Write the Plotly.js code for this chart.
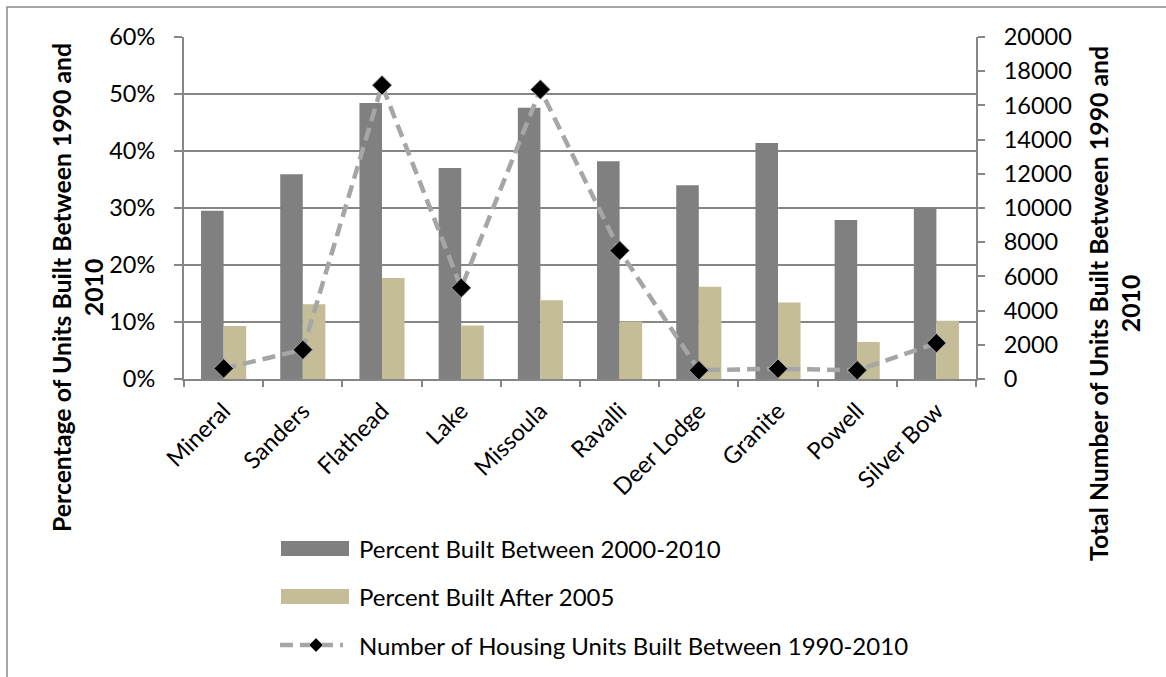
<!DOCTYPE html>
<html>
<head>
<meta charset="utf-8">
<script src="https://cdn.plot.ly/plotly-3.0.1.min.js"></script>
<style>
  html, body { margin: 0; padding: 0; background: #fff; }
  #chart { width: 1166px; height: 677px; }
</style>
</head>
<body>
<div id="chart"></div>
<script>
const counties = ["Mineral", "Sanders", "Flathead", "Lake", "Missoula", "Ravalli", "Deer Lodge", "Granite", "Powell", "Silver Bow"];
const pct2000to2010 = [0.295, 0.359, 0.484, 0.370, 0.476, 0.382, 0.340, 0.414, 0.279, 0.300];
const pctAfter2005 = [0.093, 0.131, 0.177, 0.094, 0.138, 0.101, 0.162, 0.134, 0.065, 0.102];
const unitsBuilt1990to2010 = [620, 1710, 17180, 5330, 16930, 7510, 510, 600, 510, 2100];

const seriesNames = [
  "Percent Built Between 2000-2010",
  "Percent Built After 2005",
  "Number of Housing Units Built Between 1990-2010"
];
const leftTitle = "Percentage of Units Built Between 1990 and<br>2010";
const rightTitle = "Total Number of Units Built Between 1990 and<br>2010";

const FONT = "Lato, 'Open Sans', sans-serif";
const AX = "#868686";
const TICK_SIZE = 23.5;
const LEG_SIZE = 24;
const TITLE_SIZE = 24.8;

// layout geometry (pixels)
const W = 1166, H = 677;
const L = 184, R = 976, T = 37, B = 379;
const px = x => (x - L) / (R - L);
const py = y => (B - y) / (B - T);

const traces = [
  {
    type: "bar", name: seriesNames[0], x: counties, y: pct2000to2010,
    marker: { color: "#808080" }, hoverinfo: "x+y"
  },
  {
    type: "bar", name: seriesNames[1], x: counties, y: pctAfter2005,
    marker: { color: "#C4BD97" }, hoverinfo: "x+y"
  },
  {
    type: "scatter", mode: "lines+markers", name: seriesNames[2],
    x: counties, y: unitsBuilt1990to2010, yaxis: "y2",
    line: { color: "#A6A6A6", width: 4.5, dash: "13px,7px" },
    marker: { symbol: "diamond", size: 15, color: "#000000", line: { color: "#A6A6A6", width: 1 } }
  }
];

// legend drawn as shapes + annotations
const dX = 7 / (R - L), dY = 7 / (B - T);
const lgX = px(316), lgY = py(645);
const shapes = [
  { type: "rect", xref: "paper", yref: "paper", x0: px(7), x1: px(1175), y0: py(690), y1: py(7),
    line: { color: "#8C8C8C", width: 1.5 }, fillcolor: "rgba(0,0,0,0)", layer: "below" },
  { type: "rect", xref: "paper", yref: "paper", x0: px(281), x1: px(349), y0: py(556), y1: py(541),
    line: { width: 0 }, fillcolor: "#808080" },
  { type: "rect", xref: "paper", yref: "paper", x0: px(281), x1: px(349), y0: py(604), y1: py(589),
    line: { width: 0 }, fillcolor: "#C4BD97" },
  { type: "line", xref: "paper", yref: "paper", x0: px(280), x1: px(343), y0: lgY, y1: lgY,
    line: { color: "#A6A6A6", width: 4.5, dash: "13px,7px" } },
  { type: "path", xref: "paper", yref: "paper",
    path: `M ${lgX} ${lgY + dY} L ${lgX + dX} ${lgY} L ${lgX} ${lgY - dY} L ${lgX - dX} ${lgY} Z`,
    fillcolor: "#000000", line: { color: "#A6A6A6", width: 1 } }
];

const legFont = { family: FONT, size: LEG_SIZE, color: "#000" };
const titleFont = { family: FONT, size: TITLE_SIZE, color: "#000", weight: "bold" };
const annotations = [
  { text: seriesNames[0], x: px(357), y: py(548), xref: "paper", yref: "paper", xanchor: "left", yanchor: "middle", showarrow: false, font: legFont },
  { text: seriesNames[1], x: px(357), y: py(596), xref: "paper", yref: "paper", xanchor: "left", yanchor: "middle", showarrow: false, font: legFont },
  { text: seriesNames[2], x: px(357), y: py(645), xref: "paper", yref: "paper", xanchor: "left", yanchor: "middle", showarrow: false, font: legFont },
  { text: leftTitle, x: px(77), y: py(288), xref: "paper", yref: "paper", xanchor: "center", yanchor: "middle", textangle: -90, showarrow: false, font: titleFont },
  { text: rightTitle, x: px(1114), y: py(304), xref: "paper", yref: "paper", xanchor: "center", yanchor: "middle", textangle: -90, showarrow: false, font: titleFont }
];

const layout = {
  width: W, height: H,
  margin: { l: L, r: W - R, t: T, b: H - B, pad: 0 },
  paper_bgcolor: "#ffffff", plot_bgcolor: "#ffffff",
  font: { family: FONT, size: TICK_SIZE, color: "#000" },
  showlegend: false,
  barmode: "group", bargap: 0.43, bargroupgap: 0,
  xaxis: {
    type: "category", range: [-0.5, counties.length - 0.5], autorange: false,
    showline: true, linecolor: AX, linewidth: 2,
    ticks: "outside", tickson: "boundaries", ticklen: 6, tickcolor: AX, tickwidth: 2,
    tickangle: -45, showgrid: false, zeroline: false, ticklabelstandoff: 7,
    tickfont: { family: FONT, size: TICK_SIZE }
  },
  yaxis: {
    range: [0, 0.6], dtick: 0.1, tick0: 0, tickformat: ".0%",
    showline: true, linecolor: AX, linewidth: 2,
    ticks: "outside", ticklen: 8, tickcolor: AX, tickwidth: 2,
    showgrid: true, gridcolor: AX, gridwidth: 2, zeroline: false,
    ticklabelstandoff: 14, tickfont: { family: FONT, size: TICK_SIZE }
  },
  yaxis2: {
    range: [0, 20000], dtick: 2000, tick0: 0, overlaying: "y", side: "right",
    showline: true, linecolor: AX, linewidth: 2,
    ticks: "outside", ticklen: 7, tickcolor: AX, tickwidth: 2,
    showgrid: false, zeroline: false, tickformat: "d",
    ticklabelstandoff: 14, tickfont: { family: FONT, size: TICK_SIZE }
  },
  shapes: shapes,
  annotations: annotations
};

Plotly.newPlot("chart", traces, layout, { displayModeBar: false, staticPlot: true });
</script>
</body>
</html>
